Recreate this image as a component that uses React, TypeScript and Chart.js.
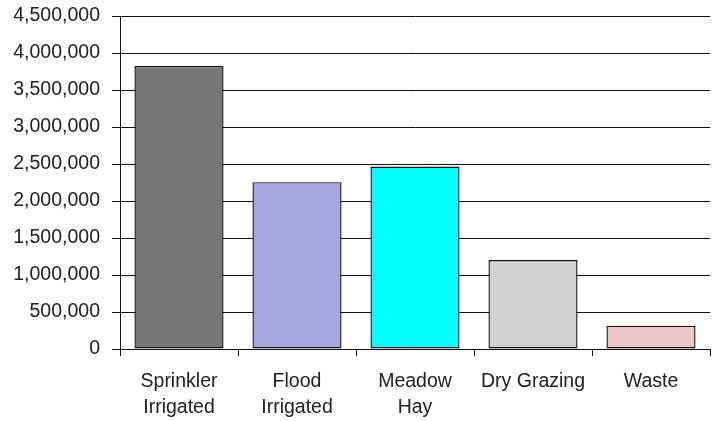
import React, { useEffect, useRef } from "react";
import { Chart, registerables } from "chart.js";

Chart.register(...registerables);

const categories: (string | string[])[] = [
  ["Sprinkler", "Irrigated"],
  ["Flood", "Irrigated"],
  ["Meadow", "Hay"],
  "Dry Grazing",
  "Waste",
];
const values = [3825000, 2255000, 2465000, 1203000, 315000];
const barColors = ["#777777", "#a7a7df", "#00ffff", "#d2d2d2", "#efc6c8"];
const yMin = 0;
const yMax = 4500000;
const yStep = 500000;

export default function App() {
  const ref = useRef<HTMLCanvasElement | null>(null);
  useEffect(() => {
    document.body.style.margin = "0";
    if (!ref.current) return;
    const chart = new Chart(ref.current, {
      type: "bar",
      data: {
        labels: categories,
        datasets: [
          {
            data: values,
            backgroundColor: barColors,
            borderColor: "#111",
            borderWidth: 1.4,
            borderSkipped: false,
            barPercentage: 0.755,
            categoryPercentage: 1,
          },
        ],
      },
      options: {
        animation: false,
        responsive: false,
        devicePixelRatio: 1,
        layout: { padding: { top: 16, right: 3, left: 0, bottom: 0 } },
        plugins: { legend: { display: false }, tooltip: { enabled: false } },
        scales: {
          x: {
            grid: {
              display: true,
              drawOnChartArea: false,
              drawTicks: true,
              tickLength: 7,
              color: "#111",
              offset: true,
            },
            border: { display: true, color: "#111", width: 1 },
            ticks: {
              color: "#222",
              font: { family: "Liberation Sans, Arial, sans-serif", size: 19.5, lineHeight: 1.36 },
              padding: 12,
              maxRotation: 0,
              autoSkip: false,
            },
            afterFit: (s: any) => {
              s.height = 72;
              s.paddingLeft = 0;
              s.paddingRight = 0;
            },
          },
          y: {
            min: yMin,
            max: yMax,
            ticks: {
              stepSize: yStep,
              color: "#222",
              font: { family: "Liberation Sans, Arial, sans-serif", size: 19.5 },
              padding: 12,
              callback: (v: any) => Number(v).toLocaleString("en-US"),
            },
            grid: { color: "#111", lineWidth: 1, tickLength: 8, drawTicks: true },
            border: { display: true, color: "#111", width: 1 },
            afterFit: (s: any) => {
              s.width = 120;
              s.paddingTop = 0;
              s.paddingBottom = 0;
            },
          },
        },
      },
    });
    return () => chart.destroy();
  }, []);
  return (
    <div style={{ width: 713, height: 421, position: "relative" }}>
      <canvas ref={ref} width={713} height={421} style={{ width: 713, height: 421, display: "block" }} />
    </div>
  );
}
